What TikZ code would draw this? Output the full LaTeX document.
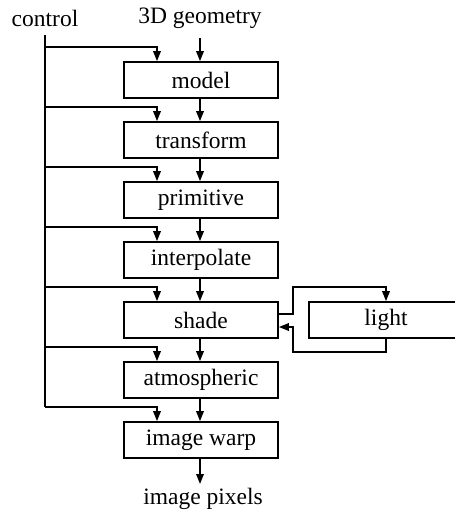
\documentclass[tikz,border=0pt]{standalone}
\usepackage{fontspec}
\setmainfont{Liberation Serif}
\usetikzlibrary{arrows.meta}
\begin{document}
\begin{tikzpicture}[x=1pt,y=-1pt,
  every node/.style={font=\fontsize{23.5}{27}\selectfont},
  stage/.style={draw,line width=1.7pt,minimum width=154pt,minimum height=36pt,inner sep=0pt},
  flow/.style={line width=1.7pt,-{Triangle[length=10pt,width=7.5pt]}},
  wire/.style={line width=1.7pt}]
\useasboundingbox (0,0) rectangle (455,515);
\clip (0,0) rectangle (455,515);
\node (ctl) at (45,18) {control};
\node (geo) at (200,18) {3D geometry};
\node[stage] (s1) at (201,80) {model};
\node[stage] (s2) at (201,140) {transform};
\node[stage] (s3) at (201,200) {primitive};
\node[stage] (s4) at (201,260) {interpolate};
\node[stage] (s5) at (201,320) {shade};
\node[stage] (s6) at (201,380) {atmospheric};
\node[stage] (s7) at (201,440) {image warp};
\node[stage] (lt) at (386,320) {light};
\node (pix) at (203,499) {image pixels};
\coordinate (ctop) at (45,35);
\coordinate (gtop) at (200,38);
\coordinate (pend) at (200,484);
\draw[wire] (ctop) -- (45,407);
\foreach \i/\y in {1/47,2/107,3/167,4/227,5/287,6/347,7/407}{
  \draw[flow] (45,\y) -| ([xshift=-44pt]s\i.north);
}
\draw[flow] (gtop) -- ([xshift=-1pt]s1.north);
\foreach \a/\b in {s1/s2,s2/s3,s3/s4,s4/s5,s5/s6,s6/s7}{
  \draw[flow] ([xshift=-1pt]\a.south) -- ([xshift=-1pt]\b.north);
}
\draw[flow] ([xshift=-1pt]s7.south) -- (pend);
\draw[flow] ([yshift=6pt]s5.east) -- (293,314) -- (293,287) -| (lt.north);
\draw[flow] (lt.south) -- (386,352) -- (293,352) -- (293,327) -- ([yshift=-7pt]s5.east);
\end{tikzpicture}
\end{document}
